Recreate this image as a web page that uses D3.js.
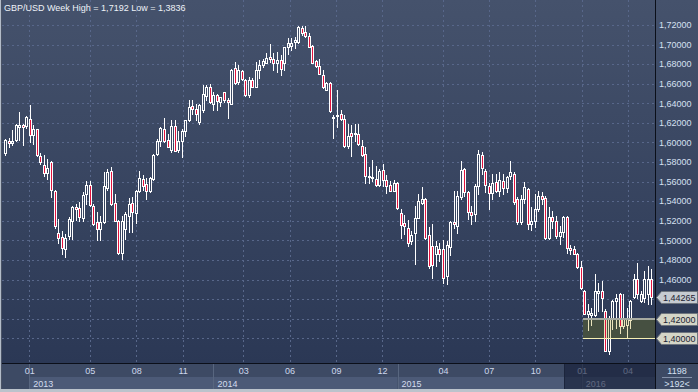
<!DOCTYPE html>
<html>
<head>
<meta charset="utf-8">
<script src="https://cdn.jsdelivr.net/npm/d3@7"></script>
<style>
html, body { margin: 0; padding: 0; background: #2c3956; }
svg { display: block; font-family: "Liberation Sans", Arial, sans-serif; }
</style>
</head>
<body>
<svg id="chart" width="698" height="392"></svg>
<script>
// weekly GBP/USD candles, first week starts monday 12.11.2012
const firstWeek = new Date(2012, 10, 12)

const open = [
  1.5895,1.6015,1.5995,1.6027,1.6155,1.6180,1.6167,1.6243,1.6072,1.6133,
  1.5860,1.5774,1.5685,1.5805,1.5508,1.5073,1.5039,1.4910,1.5040,1.5200,
  1.5337,1.5330,1.5227,1.5470,1.5566,1.5347,1.5183,1.5114,1.5183,1.5532,
  1.5713,1.5381,1.5200,1.4875,1.5114,1.5251,1.5381,1.5280,1.5501,1.5627,
  1.5576,1.5508,1.5627,1.5880,1.6015,1.6140,1.6030,1.5925,1.6165,1.5920,
  1.6010,1.6120,1.6225,1.6376,1.6345,1.6208,1.6328,1.6475,1.6567,1.6396,
  1.6482,1.6413,1.6513,1.6431,1.6396,1.6762,1.6620,1.6728,1.6636,1.6482,
  1.6643,1.6567,1.6738,1.6796,1.6807,1.6875,1.6848,1.6807,1.6841,1.6807,
  1.6971,1.6985,1.7026,1.7029,1.7169,1.7125,1.7091,1.6985,1.6830,1.6779,
  1.6694,1.6540,1.6608,1.6250,1.6266,1.6294,1.6242,1.5959,1.6092,1.6085,
  1.6088,1.5959,1.5883,1.5661,1.5644,1.5627,1.5569,1.5719,1.5616,1.5562,
  1.5507,1.5582,1.5278,1.5182,1.5131,1.4994,1.5080,1.5233,1.5377,1.5422,
  1.5052,1.4943,1.4864,1.4909,1.4909,1.4640,1.4933,1.5183,1.5148,1.5439,
  1.5730,1.5490,1.5285,1.5268,1.5552,1.5877,1.5706,1.5559,1.5484,1.5593,
  1.5508,1.5610,1.5530,1.5661,1.5679,1.5422,1.5183,1.5422,1.5525,1.5166,
  1.5200,1.5319,1.5456,1.5430,1.5029,1.5234,1.5200,1.5046,1.5090,1.5234,
  1.4926,1.4910,1.4864,1.4730,1.4482,1.4250,1.4236,1.4236,1.4465,1.4482,
  1.4280,1.3870,1.4208,1.4379,1.4448,1.4123,1.4140,1.4190,1.4420,1.4602,
  1.4379,1.4414,1.4448,1.4602
]
const high = [
  1.6035,1.6045,1.6130,1.6190,1.6311,1.6190,1.6270,1.6380,1.6174,1.6140,
  1.5894,1.5867,1.5830,1.5810,1.5514,1.5217,1.5098,1.5063,1.5234,1.5354,
  1.5370,1.5388,1.5490,1.5610,1.5610,1.5370,1.5285,1.5250,1.5696,1.5730,
  1.5754,1.5474,1.5210,1.5251,1.5286,1.5432,1.5440,1.5510,1.5713,1.5668,
  1.5634,1.5650,1.5880,1.6040,1.6160,1.6250,1.6090,1.6225,1.6225,1.6120,
  1.6140,1.6230,1.6438,1.6431,1.6396,1.6390,1.6584,1.6584,1.6600,1.6516,
  1.6499,1.6465,1.6516,1.6450,1.6755,1.6824,1.6790,1.6738,1.6653,1.6670,
  1.6663,1.6824,1.6841,1.6848,1.6916,1.7005,1.6909,1.6926,1.6892,1.6978,
  1.7063,1.7063,1.7073,1.7190,1.7190,1.7192,1.7115,1.6995,1.6841,1.6848,
  1.6738,1.6619,1.6619,1.6283,1.6533,1.6328,1.6283,1.6184,1.6174,1.6184,
  1.6184,1.6027,1.5952,1.5746,1.5822,1.5757,1.5729,1.5781,1.5668,1.5609,
  1.5616,1.5593,1.5319,1.5257,1.5206,1.5097,1.5353,1.5473,1.5548,1.5428,
  1.5138,1.5165,1.4994,1.4977,1.5000,1.4990,1.5200,1.5508,1.5508,1.5815,
  1.5740,1.5508,1.5354,1.5576,1.5925,1.5900,1.5730,1.5583,1.5679,1.5679,
  1.5696,1.5679,1.5660,1.5815,1.5696,1.5439,1.5460,1.5593,1.5535,1.5337,
  1.5473,1.5508,1.5490,1.5456,1.5337,1.5302,1.5251,1.5150,1.5251,1.5251,
  1.4950,1.4940,1.4870,1.4790,1.4490,1.4345,1.4311,1.4653,1.4567,1.4585,
  1.4300,1.4225,1.4396,1.4448,1.4465,1.4448,1.4311,1.4396,1.4653,1.4773,
  1.4482,1.4687,1.4738,1.4704
]
const low = [
  1.5870,1.5950,1.5970,1.6010,1.6027,1.5970,1.6150,1.6003,1.5986,1.5866,
  1.5780,1.5660,1.5627,1.5446,1.5125,1.4978,1.4858,1.4831,1.5012,1.5012,
  1.5210,1.5200,1.5200,1.5370,1.5354,1.5160,1.5000,1.5000,1.5180,1.5510,
  1.5364,1.5200,1.4858,1.4814,1.5012,1.5090,1.5090,1.5180,1.5490,1.5510,
  1.5420,1.5490,1.5620,1.5870,1.5960,1.6000,1.5950,1.5900,1.5910,1.5900,
  1.5850,1.6070,1.6220,1.6287,1.6225,1.6190,1.6311,1.6430,1.6403,1.6328,
  1.6328,1.6370,1.6413,1.6253,1.6390,1.6600,1.6600,1.6636,1.6471,1.6465,
  1.6567,1.6567,1.6660,1.6773,1.6807,1.6824,1.6738,1.6720,1.6694,1.6745,
  1.6900,1.6944,1.6961,1.7012,1.7097,1.7073,1.6971,1.6807,1.6773,1.6697,
  1.6557,1.6533,1.6311,1.6044,1.6157,1.6225,1.5952,1.5945,1.5866,1.6020,
  1.5979,1.5866,1.5582,1.5582,1.5609,1.5559,1.5559,1.5559,1.5483,1.5500,
  1.5500,1.5319,1.5021,1.5062,1.4940,1.4960,1.4755,1.5227,1.5370,1.5011,
  1.4720,1.4618,1.4737,1.4789,1.4567,1.4557,1.4851,1.5131,1.5080,1.5422,
  1.5456,1.5217,1.5166,1.5200,1.5473,1.5679,1.5490,1.5319,1.5422,1.5490,
  1.5456,1.5473,1.5490,1.5627,1.5371,1.5166,1.5166,1.5380,1.5114,1.5110,
  1.5140,1.5302,1.5370,1.5012,1.5012,1.5130,1.5020,1.4960,1.5030,1.4875,
  1.4858,1.4858,1.4721,1.4500,1.4243,1.4089,1.4140,1.4225,1.4277,1.4277,
  1.3866,1.3836,1.4099,1.4100,1.4050,1.4106,1.4003,1.4106,1.4414,1.4414,
  1.4370,1.4370,1.4345,1.4345
]
const close = [
  1.6025,1.5995,1.6010,1.6180,1.6180,1.6160,1.6260,1.6072,1.6133,1.5873,
  1.5800,1.5689,1.5740,1.5514,1.5149,1.5029,1.4920,1.5029,1.5217,1.5337,
  1.5320,1.5234,1.5463,1.5566,1.5361,1.5166,1.5114,1.5183,1.5559,1.5696,
  1.5371,1.5200,1.4875,1.5200,1.5268,1.5371,1.5285,1.5501,1.5634,1.5560,
  1.5501,1.5638,1.5877,1.6015,1.6150,1.6013,1.5952,1.6167,1.5918,1.6020,
  1.6120,1.6225,1.6362,1.6345,1.6294,1.6387,1.6492,1.6567,1.6413,1.6482,
  1.6424,1.6465,1.6438,1.6410,1.6745,1.6612,1.6738,1.6646,1.6482,1.6643,
  1.6567,1.6738,1.6796,1.6834,1.6868,1.6848,1.6814,1.6841,1.6755,1.6971,
  1.7012,1.7019,1.7046,1.7176,1.7121,1.7087,1.6978,1.6814,1.6779,1.6697,
  1.6567,1.6608,1.6321,1.6265,1.6283,1.6236,1.5959,1.6071,1.6065,1.6092,
  1.5986,1.5877,1.5661,1.5644,1.5651,1.5569,1.5712,1.5616,1.5552,1.5507,
  1.5582,1.5326,1.5158,1.5148,1.4977,1.5052,1.5233,1.5405,1.5422,1.5021,
  1.4737,1.4744,1.4943,1.4864,1.4618,1.4950,1.5189,1.5166,1.5456,1.5719,
  1.5490,1.5285,1.5261,1.5552,1.5884,1.5740,1.5566,1.5484,1.5586,1.5508,
  1.5617,1.5530,1.5644,1.5696,1.5388,1.5183,1.5422,1.5542,1.5166,1.5200,
  1.5319,1.5456,1.5422,1.5029,1.5234,1.5200,1.5046,1.5090,1.5234,1.4926,
  1.4900,1.4864,1.4730,1.4516,1.4250,1.4277,1.4260,1.4482,1.4482,1.4414,
  1.3870,1.4208,1.4379,1.4414,1.4123,1.4208,1.4208,1.4379,1.4602,1.4448,
  1.4448,1.4602,1.4602,1.44265
]

// axis labels
const monthTicks = [
  new Date(2013, 0, 1), new Date(2013, 4, 1), new Date(2013, 7, 1), new Date(2013, 10, 1),
  new Date(2014, 2, 1), new Date(2014, 5, 1), new Date(2014, 8, 1), new Date(2014, 11, 1),
  new Date(2015, 3, 1), new Date(2015, 6, 1), new Date(2015, 9, 1),
  new Date(2016, 0, 1), new Date(2016, 3, 1)
]
const years = [2013, 2014, 2015, 2016]
const priceTicks = [1.72, 1.70, 1.68, 1.66, 1.64, 1.62, 1.60, 1.58, 1.56, 1.54, 1.52, 1.50, 1.48, 1.46]
const gridLevels = [1.72, 1.70, 1.68, 1.66, 1.64, 1.62, 1.60, 1.58, 1.56, 1.54, 1.52, 1.50, 1.48, 1.46, 1.44, 1.42, 1.40]
const markLevels = [1.42, 1.40]
const zoneFrom = new Date(2016, 0, 4)
const shadeFrom = new Date(2015, 10, 27)
const barTotal = "1198"
const barVisible = ">192<"

const W = 698, H = 392
const plot = { left: 2, right: 655, top: 0, bottom: 363 }
const axisBottom = 389

const weeks = d3.timeMonday.range(firstWeek, d3.timeWeek.offset(firstWeek, close.length))
const candles = weeks.map((d, i) => ({
    date: d3.timeDay.offset(d, 2),
    o: open[i], h: high[i], l: low[i], c: close[i]
}))

const x = d3.scaleTime()
    .domain([new Date(2012, 10, 9, 21), new Date(2016, 4, 25, 7)])
    .range([3, plot.right])
const y = d3.scaleLinear()
    .domain([1.37474, 1.74554])
    .range([plot.bottom, plot.top])

const fmt = v => v.toFixed(5).replace(".", ",")
const snap = v => Math.round(v) + 0.5

const svg = d3.select("#chart")

const defs = svg.append("defs")
const grad = defs.append("linearGradient")
    .attr("id", "bg").attr("x1", 0).attr("y1", 0).attr("x2", 0).attr("y2", 1)
grad.append("stop").attr("offset", "0%").attr("stop-color", "#45526c")
grad.append("stop").attr("offset", "100%").attr("stop-color", "#2b3855")

defs.append("clipPath").attr("id", "plotClip")
    .append("rect")
    .attr("x", plot.left).attr("y", plot.top)
    .attr("width", plot.right - plot.left).attr("height", plot.bottom - plot.top)

// support zone 1.40 - 1.42
const zx0 = Math.round(x(zoneFrom))
const zy0 = Math.round(y(markLevels[0]))
const zy1 = Math.round(y(markLevels[1]))
defs.append("clipPath").attr("id", "zoneClip")
    .append("rect")
    .attr("x", zx0).attr("y", zy0)
    .attr("width", plot.right - zx0).attr("height", zy1 - zy0 + 1)

// background
svg.append("rect")
    .attr("x", 0).attr("y", 0).attr("width", W).attr("height", plot.bottom)
    .attr("fill", "url(#bg)")

// grid
const grid = svg.append("g").attr("shape-rendering", "crispEdges")
    .attr("stroke", "#58678a").attr("stroke-dasharray", "2,3")
grid.selectAll("line.h")
    .data(gridLevels)
    .enter()
    .append("line")
    .attr("x1", plot.left).attr("x2", plot.right)
    .attr("y1", d => snap(y(d))).attr("y2", d => snap(y(d)))
grid.selectAll("line.v")
    .data(monthTicks)
    .enter()
    .append("line")
    .attr("x1", d => snap(x(d))).attr("x2", d => snap(x(d)))
    .attr("y1", plot.top).attr("y2", plot.bottom)

function drawCandles(layer, lineColor) {
    layer.selectAll("g.candle")
        .data(candles)
        .enter()
        .append("g")
        .each(function(d) {
            const g = d3.select(this)
            const px = Math.round(x(d.date)) - 0.5
            const top = Math.round(y(Math.max(d.o, d.c)))
            const bot = Math.round(y(Math.min(d.o, d.c)))
            const hh = Math.max(bot - top, 1)
            g.append("line")
                .attr("x1", px + 0.5).attr("x2", px + 0.5)
                .attr("y1", Math.round(y(d.h))).attr("y2", top)
                .attr("stroke", lineColor)
            g.append("line")
                .attr("x1", px + 0.5).attr("x2", px + 0.5)
                .attr("y1", top + hh).attr("y2", Math.round(y(d.l)) + 1)
                .attr("stroke", lineColor)
            g.append("rect")
                .attr("x", px - 0.5).attr("y", top + 0.5)
                .attr("width", 2).attr("height", hh)
                .attr("fill", d.c < d.o ? "#e3123d" : "none")
                .attr("stroke", lineColor)
        })
}

// candles
const cg = svg.append("g").attr("clip-path", "url(#plotClip)")
    .attr("shape-rendering", "crispEdges")
drawCandles(cg, "#ffffff")

// zone box drawn over, candles repeated inside it in a cream tone
svg.append("rect")
    .attr("x", zx0).attr("y", zy0)
    .attr("width", plot.right - zx0).attr("height", zy1 - zy0)
    .attr("fill", "#465041")
const zg = svg.append("g").attr("clip-path", "url(#zoneClip)")
    .attr("shape-rendering", "crispEdges")
drawCandles(zg, "#ebe4bc")

svg.append("line")
    .attr("x1", zx0).attr("x2", plot.right)
    .attr("y1", zy0).attr("y2", zy0)
    .attr("stroke", "#a6aaa1").attr("stroke-width", 2)
svg.append("line")
    .attr("x1", zx0).attr("x2", plot.right)
    .attr("y1", zy1 + 0.5).attr("y2", zy1 + 0.5)
    .attr("stroke", "#f7f0b4").attr("stroke-width", 1)

// axis lines
svg.append("line")
    .attr("x1", plot.right + 0.5).attr("x2", plot.right + 0.5)
    .attr("y1", 0).attr("y2", axisBottom)
    .attr("stroke", "#0b0f19")

// price labels
svg.append("g").selectAll("text")
    .data(priceTicks)
    .enter()
    .append("text")
    .attr("x", 659).attr("y", d => y(d)).attr("dy", "0.36em")
    .attr("font-size", 9).attr("fill", "#d6e0f2")
    .text(fmt)

// badges (last price + zone levels)
const last = close[close.length - 1]
const badges = [{ v: last, fill: "#c6cbd1" }].concat(markLevels.map(v => ({ v: v, fill: "#d4d5c7" })))
const bg = svg.append("g").selectAll("g")
    .data(badges)
    .enter()
    .append("g")
bg.append("path")
    .attr("d", d => {
        const c = Math.round(y(d.v)) + 0.5
        return `M656.5,${c} L661.5,${c - 6} L697.5,${c - 6} L697.5,${c + 6} L661.5,${c + 6} Z`
    })
    .attr("fill", d => d.fill)
    .attr("stroke", "#6d747d")
bg.append("text")
    .attr("x", 663).attr("y", d => Math.round(y(d.v)) + 0.5).attr("dy", "0.36em")
    .attr("font-size", 9).attr("fill", "#1b2233")
    .text(d => fmt(d.v))

// time axis area
const ax = svg.append("g")
ax.append("rect")
    .attr("x", 0).attr("y", plot.bottom).attr("width", W).attr("height", axisBottom - plot.bottom)
    .attr("fill", "#3d4a64")
ax.selectAll("rect.year")
    .data(years)
    .enter()
    .append("rect")
    .attr("x", d => Math.max(Math.round(x(new Date(d, 0, 1))), plot.left))
    .attr("y", 377)
    .attr("width", d => Math.min(x(new Date(d + 1, 0, 1)), plot.right) - Math.max(Math.round(x(new Date(d, 0, 1))), plot.left))
    .attr("height", axisBottom - 377)
    .attr("fill", "#4c5a77")
ax.selectAll("line.sep")
    .data(years)
    .enter()
    .append("line")
    .attr("x1", d => snap(x(new Date(d, 0, 1)))).attr("x2", d => snap(x(new Date(d, 0, 1))))
    .attr("y1", plot.bottom).attr("y2", axisBottom)
    .attr("stroke", "#58667f")
ax.selectAll("text.month")
    .data(monthTicks)
    .enter()
    .append("text")
    .attr("x", d => x(d) + 0.5).attr("y", 374)
    .attr("text-anchor", "middle")
    .attr("font-size", 9).attr("fill", "#cdd8ec")
    .text(d3.timeFormat("%m"))
ax.selectAll("text.year")
    .data(years)
    .enter()
    .append("text")
    .attr("x", d => x(new Date(d, 0, 1)) + 4).attr("y", 386.5)
    .attr("font-size", 9).attr("fill", "#d3dcee")
    .text(d => d)

// darker band at the end of the time axis
const sx = Math.round(x(shadeFrom))
ax.append("rect")
    .attr("x", sx).attr("y", plot.bottom)
    .attr("width", plot.right - sx).attr("height", axisBottom - plot.bottom)
    .attr("fill", "#121b33").attr("opacity", 0.6)
ax.append("line")
    .attr("x1", sx + 0.5).attr("x2", sx + 0.5)
    .attr("y1", plot.bottom).attr("y2", axisBottom)
    .attr("stroke", "#1c253c")

// corner: bar counters
ax.append("text")
    .attr("x", 677).attr("y", 374).attr("text-anchor", "middle")
    .attr("font-size", 9).attr("fill", "#d6e0f2")
    .text(barTotal)
ax.append("line")
    .attr("x1", 662).attr("x2", 692).attr("y1", 377.5).attr("y2", 377.5)
    .attr("stroke", "#8592aa")
ax.append("text")
    .attr("x", 677).attr("y", 386.5).attr("text-anchor", "middle")
    .attr("font-size", 9).attr("fill", "#d6e0f2")
    .text(barVisible)

svg.append("line")
    .attr("x1", 0).attr("x2", W)
    .attr("y1", plot.bottom + 0.5).attr("y2", plot.bottom + 0.5)
    .attr("stroke", "#0b0f19")
svg.append("line")
    .attr("x1", plot.right + 0.5).attr("x2", plot.right + 0.5)
    .attr("y1", plot.bottom).attr("y2", axisBottom)
    .attr("stroke", "#0b0f19")

// frame
svg.append("rect").attr("x", 0).attr("y", axisBottom).attr("width", W).attr("height", H - axisBottom)
    .attr("fill", "#bbc3cc")
svg.append("rect").attr("x", 0).attr("y", 0).attr("width", 1).attr("height", axisBottom)
    .attr("fill", "#b3bcc8")
svg.append("rect").attr("x", 1).attr("y", 0).attr("width", 1).attr("height", axisBottom)
    .attr("fill", "#4a5366")

// title
svg.append("text")
    .attr("x", 4).attr("y", 11)
    .attr("font-size", 9).attr("fill", "#eef2f8")
    .text(`GBP/USD Week High = ${d3.max(high).toFixed(4).replace(".", ",")} Low = ${d3.min(low).toFixed(4).replace(".", ",")}`)
</script>
</body>
</html>
